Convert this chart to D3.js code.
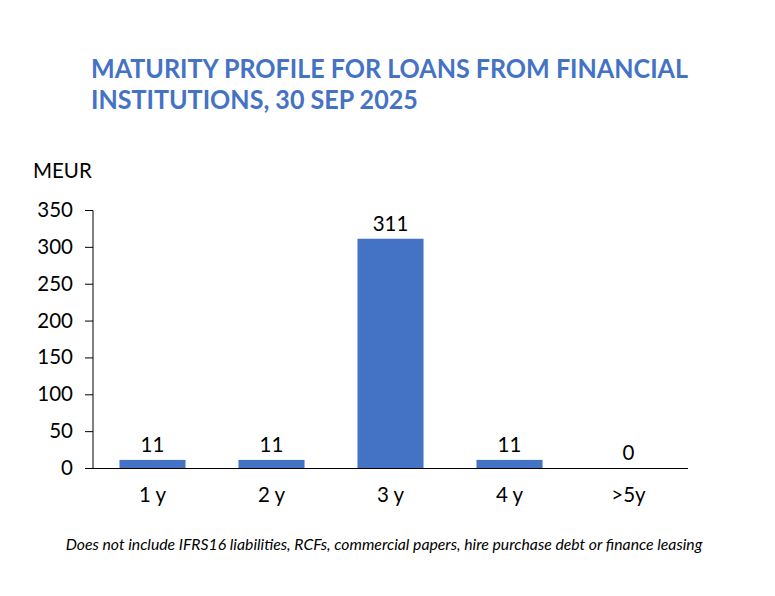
<!DOCTYPE html>
<html><head><meta charset="utf-8">
<script src="https://cdn.jsdelivr.net/npm/d3@7"></script>
<style>body{margin:0;background:#fff}svg{display:block}</style>
</head><body>
<script>
const categories = ["1 y", "2 y", "3 y", "4 y", ">5y"];
const values = [11, 11, 311, 11, 0];
const yTicks = [0, 50, 100, 150, 200, 250, 300, 350];
const titleLines = ["MATURITY PROFILE FOR LOANS FROM FINANCIAL", "INSTITUTIONS, 30 SEP 2025"];
const unitLabel = "MEUR";
const footnote = "Does not include IFRS16 liabilities, RCFs, commercial papers, hire purchase debt or finance leasing";

const W = 775, H = 596;
const font = "Lato, 'Open Sans', 'Liberation Sans', sans-serif";
const svg = d3.select("body").append("svg").attr("width", W).attr("height", H);
svg.append("rect").attr("width", W).attr("height", H).attr("fill", "#fff");

// title: taller glyphs, compressed horizontally to the reference width
const tl = svg.selectAll("text.title").data(titleLines).join("text")
  .attr("class", "title")
  .attr("x", 91).attr("y", (d, i) => 78 + i * 31)
  .attr("font-family", font).attr("font-weight", "bold").attr("font-size", 26)
  .attr("fill", "#4472C4").text(d => d);
const widths = tl.nodes().map(n => n.getComputedTextLength());
const k = 597 / widths[0];
tl.attr("textLength", (d, i) => widths[i] * k).attr("lengthAdjust", "spacingAndGlyphs");

const x = d3.scaleBand().domain(categories).range([93, 688]).paddingInner(0.445).paddingOuter(0.2225);
const y = d3.scaleLinear().domain([0, 350]).range([468, 210]);

const g = svg.append("g");
const yAxis = d3.axisLeft(y).tickValues(yTicks).tickSize(8).tickPadding(12);
const ya = g.append("g").attr("transform", "translate(93,0)").call(yAxis);
ya.select(".domain").attr("stroke", "#000").attr("d", "M0,210.5V468");
ya.selectAll(".tick line").attr("stroke", "#000");
ya.selectAll("text").attr("font-family", font).attr("font-size", 20.5).attr("fill", "#000");

const xAxis = d3.axisBottom(x).tickSize(0).tickPadding(19);
const xa = g.append("g").attr("transform", "translate(0,468)").call(xAxis);
xa.select(".domain").attr("stroke", "#000").attr("d", "M93,0.5H688");
xa.selectAll("text").attr("font-family", font).attr("font-size", 20.5).attr("fill", "#000");

g.selectAll("rect.bar").data(values).join("rect").attr("class", "bar")
  .attr("x", (d, i) => x(categories[i])).attr("width", x.bandwidth())
  .attr("y", d => y(d)).attr("height", d => y(0) - y(d))
  .attr("fill", "#4472C4");

g.selectAll("text.lbl").data(values).join("text").attr("class", "lbl")
  .attr("x", (d, i) => x(categories[i]) + x.bandwidth() / 2)
  .attr("y", d => y(d) - 8)
  .attr("text-anchor", "middle").attr("font-family", font).attr("font-size", 20.5)
  .attr("fill", "#000").text(d => d);

svg.append("text").attr("x", 33).attr("y", 178).attr("font-family", font).attr("font-size", 20.5)
  .attr("fill", "#000").text(unitLabel);

const fn = svg.append("text").attr("x", 384).attr("y", 550).attr("text-anchor", "middle")
  .attr("font-family", font).attr("font-style", "italic").attr("font-size", 14)
  .attr("fill", "#000").text(footnote);
const fw = fn.node().getComputedTextLength();
fn.attr("font-size", 14 * 637 / fw);
</script>
</body></html>
